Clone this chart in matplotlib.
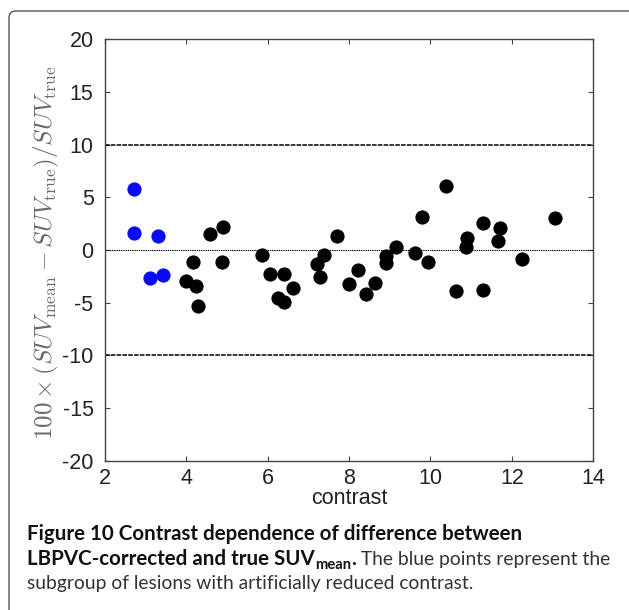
import matplotlib
matplotlib.use("Agg")
import matplotlib.pyplot as plt
from matplotlib.patches import FancyBboxPatch
from matplotlib.transforms import IdentityTransform

# ---------------- data ----------------
blue_contrast = [2.71, 2.71, 3.31, 3.12, 3.43]
blue_diff = [5.77, 1.64, 1.36, -2.65, -2.37]

black_contrast = [4.00, 4.18, 4.24, 4.30, 4.59, 4.90, 4.88, 5.87, 6.06, 6.41,
                  6.25, 6.41, 6.63, 7.21, 7.39, 7.28, 7.71, 8.00, 8.21, 8.42,
                  8.63, 8.90, 8.90, 9.15, 9.62, 9.80, 9.94, 10.38, 10.63, 10.89,
                  10.88, 11.28, 11.28, 11.70, 11.65, 12.25, 13.06]
black_diff = [-2.90, -1.10, -3.44, -5.27, 1.51, 2.18, -1.14, -0.47, -2.27, -2.27,
              -4.57, -4.98, -3.63, -1.32, -0.47, -2.59, 1.32, -3.22, -1.89, -4.13,
              -3.15, -0.54, -1.26, 0.32, -0.32, 3.09, -1.10, 6.12, -3.85, 1.10,
              0.32, 2.52, -3.81, 2.11, 0.85, -0.82, 3.06]

limit_lines = [10, -10]
zero_line = [0]
xticks = [2, 4, 6, 8, 10, 12, 14]
yticks = [-20, -15, -10, -5, 0, 5, 10, 15, 20]

caption_l1 = "Figure 10 Contrast dependence of difference between"
caption_l2_bold = "LBPVC-corrected and true SUV"
caption_l2_sub = "mean"
caption_l2_dot = "."
caption_l2_reg = " The blue points represent the"
caption_l3 = "subgroup of lesions with artificially reduced contrast."

# ---------------- figure ----------------
W, H, DPI = 629, 610, 100
plt.rcParams['axes.unicode_minus'] = False
plt.rcParams['mathtext.fontset'] = 'cm'
fig = plt.figure(figsize=(W / DPI, H / DPI), dpi=DPI)
fig.patch.set_facecolor('white')

# rounded border
border = FancyBboxPatch((9, -30), 700, 610 - 11 + 30, boxstyle="round,pad=0,rounding_size=7",
                        transform=IdentityTransform(), fill=False, edgecolor='#555555',
                        linewidth=1.0, zorder=0)
fig.patches.append(border)

ax_l, ax_r, ax_t, ax_b = 104.7, 593.3, 39.3, 460.7
ax = fig.add_axes([ax_l / W, 1 - ax_b / H, (ax_r - ax_l) / W, (ax_b - ax_t) / H])

ax.scatter(black_contrast, black_diff, s=105, color='black', linewidths=0, zorder=3)
ax.scatter(blue_contrast, blue_diff, s=105, color='#0a0af5', linewidths=0, zorder=3)

for v in limit_lines:
    ax.axhline(v, color='black', lw=1.1, ls=(0, (3, 0.8)), zorder=2)
for v in zero_line:
    ax.axhline(v, color='black', lw=0.8, ls=(0, (1.2, 0.8)), zorder=2)

ax.set_xlim(2, 14)
ax.set_ylim(-20, 20)
ax.set_xticks(xticks)
ax.set_yticks(yticks)
ax.set_xticklabels([str(t) for t in xticks])
ax.set_yticklabels([str(t) for t in yticks])

tickfont = 'Liberation Sans'
ax.tick_params(axis='both', direction='in', length=3.6, width=0.8, color='#444444',
               labelsize=15.5, labelcolor='#222222', top=True, right=True)
ax.tick_params(axis='x', pad=5)
ax.tick_params(axis='y', pad=8)
for lab in ax.get_xticklabels() + ax.get_yticklabels():
    lab.set_fontfamily(tickfont)
for sp in ax.spines.values():
    sp.set_color('#444444')
    sp.set_linewidth(1.0)

ax.set_xlabel('contrast', fontsize=15.5, family=tickfont, color='#222222', labelpad=0)
ax.xaxis.set_label_coords(0.5, (ax_b - 499) / (ax_b - ax_t), transform=ax.transAxes)
ax.xaxis.label.set_va('center')

fig.text(46 / W, 1 - 253 / H,
         r'$100 \times (SUV_{\rm mean} - SUV_{\rm true})/SUV_{\rm true}$',
         rotation=90, ha='center', va='center', fontsize=18, color='#6a6a6a')

# ---------------- caption ----------------
capfont = 'Lato'
renderer = fig.canvas.get_renderer()


def width_px(t):
    return t.get_window_extent(renderer=renderer).width


x0 = 27
base1, base2, base3 = 540.5, 565, 589.5

t1 = fig.text(x0, H - base1, caption_l1, transform=IdentityTransform(), family=capfont,
              weight='bold', fontsize=13, color='#111111', va='baseline')
bold_size = 13 * 496 / width_px(t1)
t1.set_fontsize(bold_size)

t3 = fig.text(x0, H - base3, caption_l3, transform=IdentityTransform(), family=capfont,
              fontsize=13, color='#333333', va='baseline')
reg_size = 13 * 446 / width_px(t3)
t3.set_fontsize(reg_size)

x = x0
ta = fig.text(x, H - base2, caption_l2_bold, transform=IdentityTransform(), family=capfont,
              weight='bold', fontsize=bold_size, color='#111111', va='baseline')
x += width_px(ta)
tb = fig.text(x, H - base2 - 4, caption_l2_sub, transform=IdentityTransform(), family=capfont,
              weight='bold', fontsize=bold_size * 0.72, color='#111111', va='baseline')
x += width_px(tb)
tc = fig.text(x, H - base2, caption_l2_dot, transform=IdentityTransform(), family=capfont,
              weight='bold', fontsize=bold_size, color='#111111', va='baseline')
x += width_px(tc)
td = fig.text(x, H - base2, caption_l2_reg, transform=IdentityTransform(), family=capfont,
              fontsize=reg_size, color='#333333', va='baseline')

fig.savefig('out.png', dpi=DPI, facecolor='white')
